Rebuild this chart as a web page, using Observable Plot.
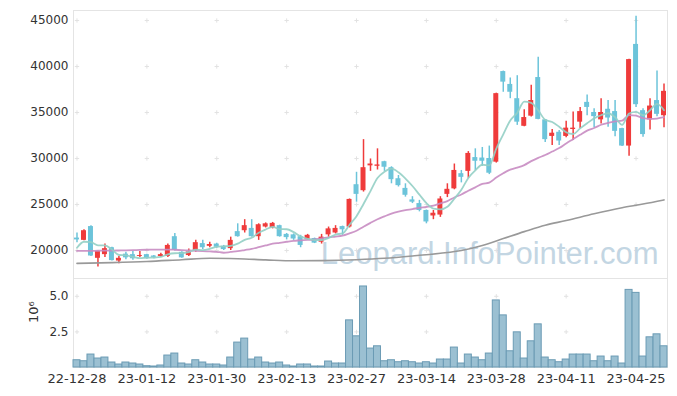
<!DOCTYPE html>
<html><head><meta charset="utf-8">
<script src="https://cdn.jsdelivr.net/npm/d3@7"></script>
<script src="https://cdn.jsdelivr.net/npm/@observablehq/plot@0.6"></script>
<style>
body{margin:0;background:#fff;}
#chart{width:677px;height:396px;overflow:hidden;}
#chart svg{display:block;}
</style></head><body><div id="chart"></div>
<script>
const dates = ["22-12-28","22-12-29","23-01-02","23-01-03","23-01-04","23-01-05","23-01-06","23-01-09","23-01-10","23-01-11",
"23-01-12","23-01-13","23-01-16","23-01-17","23-01-18","23-01-19","23-01-20","23-01-25","23-01-26","23-01-27",
"23-01-30","23-01-31","23-02-01","23-02-02","23-02-03","23-02-06","23-02-07","23-02-08","23-02-09","23-02-10",
"23-02-13","23-02-14","23-02-15","23-02-16","23-02-17","23-02-20","23-02-21","23-02-22","23-02-23","23-02-24",
"23-02-27","23-02-28","23-03-02","23-03-03","23-03-06","23-03-07","23-03-08","23-03-09","23-03-10","23-03-13",
"23-03-14","23-03-15","23-03-16","23-03-17","23-03-20","23-03-21","23-03-22","23-03-23","23-03-24","23-03-27",
"23-03-28","23-03-29","23-03-30","23-03-31","23-04-03","23-04-04","23-04-05","23-04-06","23-04-07","23-04-10",
"23-04-11","23-04-12","23-04-13","23-04-14","23-04-17","23-04-18","23-04-19","23-04-20","23-04-21","23-04-24",
"23-04-25","23-04-26","23-04-27","23-04-28","23-05-02"];

const openP = [21350,21100,22600,19150,19550,20300,18850,19600,19550,19350,19550,19400,19350,19350,21500,19800,19450,20000,20750,20450,
20700,20450,20200,22050,22150,22400,21500,22550,22450,22700,21750,21700,21500,21200,21300,20900,21700,21900,22600,22550,
27150,26500,29200,29150,29650,29000,27800,26750,25500,25100,24350,23750,23850,26100,26700,28350,28600,30100,30050,30000,
29600,39450,38050,36500,33500,34600,38800,34200,32400,32850,32400,33150,33950,36100,35000,34200,35350,35100,33250,31350,
42400,35200,34200,36300,34650];
const highP = [21900,22250,22700,19950,20700,20350,19350,19800,19900,19900,19600,19450,19700,20700,21850,19850,20150,21100,21100,20900,
20800,20550,21450,22900,23350,23350,22900,23000,23050,22750,21850,21800,21650,21750,21350,21750,22550,22700,22650,25600,
28500,32050,29950,31050,29700,29100,28150,27250,25850,25450,24400,24350,25850,27250,29400,28700,30750,31050,31200,31350,
37100,39500,38750,39000,35300,37950,41000,34250,33150,33050,34050,35050,35550,36900,35400,36500,36300,36300,33300,40800,
45450,35400,36500,39500,38100];
const lowP = [20850,21050,19350,18200,19250,18850,18550,19000,18950,19250,19050,19100,19250,19250,19950,19150,19350,19800,20100,20300,
20250,20000,20000,21450,21900,21450,21100,22450,22350,21450,21150,21100,20300,21100,20750,20700,21450,21800,21650,22450,
25250,26350,28600,28750,28600,27250,26900,25800,25100,24200,22900,23350,23600,25750,26600,27350,27850,28700,29150,28250,
29500,37200,36500,33600,33450,34500,34200,31750,31400,31400,32250,31950,33250,34650,33350,33750,33400,32350,31300,30250,
35550,32300,33100,34550,33350];
const closeP = [21150,22150,19400,19900,20200,18900,19150,19200,19100,19450,19150,19250,19550,20550,20000,19200,19850,20850,20300,20650,
20350,20100,21100,21500,22700,21500,22800,22900,22950,21500,21400,21250,20550,21650,20800,21450,22350,22400,22250,25550,
26100,29000,29400,29300,29050,27700,27050,26000,25250,24350,23100,24050,25600,26650,28700,27950,30550,29700,29700,28400,
37050,38300,37200,33950,34450,36300,34250,32050,32750,31900,33300,33300,35100,35550,34550,35000,34400,32950,31350,40750,
35850,32600,35700,34800,37300];
// volume in millions (10^6)
const volumeM = [0.51,0.44,0.91,0.63,0.70,0.35,0.21,0.35,0.28,0.21,0.09,0.07,0.14,0.84,0.98,0.28,0.21,0.51,0.35,0.21,
0.21,0.14,0.70,1.75,2.03,0.56,0.70,0.35,0.28,0.35,0.14,0.07,0.21,0.21,0.07,0.07,0.42,0.28,0.28,3.31,
2.19,5.69,1.33,1.49,0.44,0.51,0.37,0.44,0.37,0.28,0.37,0.28,0.56,0.56,1.40,0.28,0.91,0.70,0.51,0.98,
4.71,3.66,1.14,2.47,0.63,1.84,3.03,0.70,0.51,0.37,0.56,0.91,0.91,0.91,0.44,0.77,0.44,0.77,0.28,5.45,
5.24,0.77,2.12,2.33,1.49];
const ma5 = [20300,20950,20900,20550,20560,20110,19510,19470,19310,19160,19210,19230,19300,19590,19700,19710,19830,20090,20040,20170,
20400,20450,20500,20740,21150,21380,21920,22280,22570,22330,22310,22000,21530,21270,21130,21140,21360,21730,21850,22800,
23730,25060,26460,27870,28570,28890,28500,27820,27010,26070,25150,24550,24470,24750,25620,26590,27890,28710,29320,29260,
31080,32630,34130,34980,36190,36040,35230,34200,33960,33450,32850,32660,33270,33830,34360,34700,34920,34490,33650,34890,
35060,34700,35250,35940,35250];
const ma20 = [19950,19950,19960,19970,19980,19990,20000,20020,20040,20060,20080,20090,20100,20100,20080,20050,20000,19960,19930,19898,
19858,19755,19840,19920,20045,20175,20358,20543,20735,20838,20950,21050,21100,21155,21195,21308,21433,21510,21608,21853,
22140,22585,23000,23390,23708,24018,24230,24385,24500,24643,24728,24868,25120,25370,25765,26090,26500,26865,27238,27380,
27928,28393,28783,29015,29285,29715,30075,30378,30753,31130,31640,32103,32578,33023,33315,33668,33860,34023,34105,34723,
34663,34378,34303,34345,34488];
const ma120Idx = [0,5,10,15,19,23,27,31,35,40,44,48,52,55,58,61,64,67,70,74,78,81,84];
const ma120Val = [18600,18680,18800,19000,19150,19100,18980,18880,18900,19000,19150,19400,19700,20000,20550,21300,22050,22750,23250,24000,24650,25050,25500];

const priceTicks = [20000,25000,30000,35000,40000,45000];
const volTicks = [2.5,5.0];
const xTickIdx = [0,10,20,30,40,50,60,70,80];
const watermark = "Leopard.InfoPointer.com";

const RED = "#ef3b3b", BLUE = "#6cc4da";
const FONT = "'DejaVu Sans', sans-serif";

const candles = dates.map((d,i)=>({date:d, open:openP[i], high:highP[i], low:lowP[i], close:closeP[i], vol:volumeM[i]}));
const xTicks = xTickIdx.map(i=>dates[i]);
const grid = ys => xTicks.flatMap(x => ys.map(y => ({x, y})));
const ma5Data = dates.map((d,i)=>({date:d, v:ma5[i]}));
const ma20Data = dates.map((d,i)=>({date:d, v:ma20[i]}));
const ma120Data = ma120Idx.map((k,j)=>({date:dates[k], v:ma120Val[j]}));
const col = d => d.close >= d.open ? RED : BLUE;

const price = Plot.plot({
  width: 677, height: 278,
  marginLeft: 73, marginRight: 10, marginTop: 10, marginBottom: 0,
  style: {fontFamily: FONT, fontSize: "12px", color: "#333", background: "transparent"},
  color: {type: "identity"},
  x: {type: "band", domain: dates, padding: 0, axis: null},
  y: {domain: [16955, 46087], ticks: priceTicks, tickFormat: d => String(d), tickSize: 0, tickPadding: 5, label: null},
  marks: [
    Plot.frame({stroke: "#e4e4e4"}),
    Plot.dot(grid(priceTicks), {x: "x", y: "y", symbol: "plus", r: 1.5, stroke: "#e2e2e2", strokeWidth: 1}),
    Plot.text([watermark], {frameAnchor: "bottom-right", textAnchor: "end", lineAnchor: "bottom", dx: -9, dy: -15, fontSize: 31, fill: "#c3d6e3", fontFamily: "'Liberation Sans', Arial, sans-serif"}),
    Plot.ruleX(candles, {x: "date", y1: "low", y2: "high", stroke: col, strokeWidth: 1.5}),
    Plot.barY(candles, {x: "date", y1: "open", y2: "close", fill: col, insetLeft: 1, insetRight: 1}),
    Plot.line(ma120Data, {x: "date", y: "v", stroke: "#999", strokeWidth: 1.6, curve: "monotone-x"}),
    Plot.line(ma20Data, {x: "date", y: "v", stroke: "#c88cc2", strokeWidth: 1.8, strokeOpacity: 0.9, curve: "monotone-x"}),
    Plot.line(ma5Data, {x: "date", y: "v", stroke: "#93cfc5", strokeWidth: 1.8, strokeOpacity: 0.9, curve: "monotone-x"})
  ]
});

const vol = Plot.plot({
  width: 677, height: 118,
  marginLeft: 73, marginRight: 10, marginTop: 0, marginBottom: 29,
  style: {fontFamily: FONT, fontSize: "12px", color: "#333", background: "transparent"},
  x: {type: "band", domain: dates, padding: 0, ticks: xTicks, tickSize: 0, tickPadding: 6, label: null},
  y: {domain: [0, 6.25], ticks: volTicks, tickFormat: d => d.toFixed(1), tickSize: 0, tickPadding: 5, label: null},
  marks: [
    Plot.frame({stroke: "#e4e4e4"}),
    Plot.dot(grid(volTicks), {x: "x", y: "y", symbol: "plus", r: 1.5, stroke: "#e2e2e2", strokeWidth: 1}),
    Plot.barY(candles, {x: "date", y: "vol", fill: "#9bc0d2", stroke: "#6b9bb4", strokeWidth: 1}),
    Plot.text(["10⁶"], {frameAnchor: "left", dx: -40, dy: 0, rotate: -90, fontSize: 13, fill: "#333"})
  ]
});

// x tick labels are a touch larger than the y tick labels in the reference
vol.querySelectorAll("[aria-label='x-axis tick label'] text, g[aria-label='x-axis'] text").forEach(t => t.setAttribute("font-size", "13"));

const root = document.getElementById("chart");
root.appendChild(price);
root.appendChild(vol);
</script>
</body></html>
